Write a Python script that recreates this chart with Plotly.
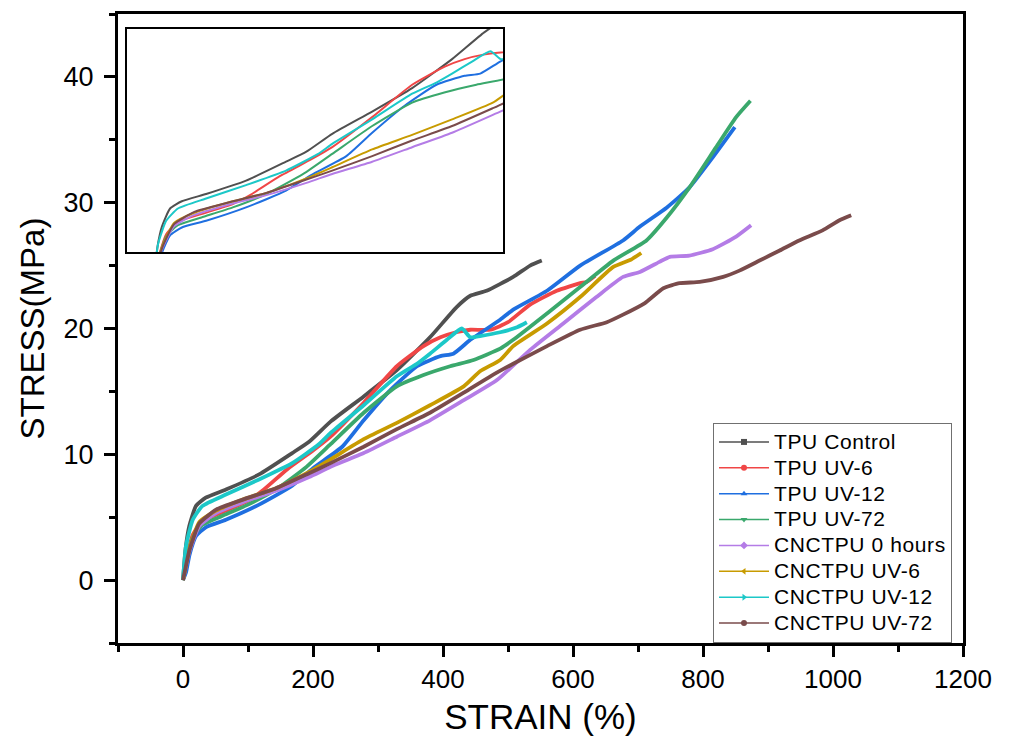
import plotly.graph_objects as go

# ---------------- data ----------------
series_names = ["TPU Control", "TPU UV-6", "TPU UV-12", "TPU UV-72",
                "CNCTPU 0 hours", "CNCTPU UV-6", "CNCTPU UV-12", "CNCTPU UV-72"]

tpu_control_strain = [0, 4, 9.7, 20, 35, 66, 117, 168, 194, 227, 278, 329, 380, 421, 442, 467, 508, 534, 552]
tpu_control_stress = [0, 2.5, 4.3, 5.9, 6.55, 7.2, 8.4, 10.1, 11.0, 12.6, 14.6, 16.7, 19.3, 21.7, 22.6, 23.0, 24.1, 25.0, 25.4]

tpu_uv6_strain = [0, 5, 15, 30, 60, 100, 122, 160, 200, 227, 278, 329, 370, 396, 420, 442, 473, 500, 534, 575, 611, 621, 634]
tpu_uv6_stress = [0, 1.5, 3.6, 4.7, 5.4, 6.3, 7.1, 8.8, 10.3, 11.4, 14.1, 17.0, 18.6, 19.3, 19.7, 19.9, 19.9, 20.5, 21.9, 23.0, 23.6, 23.7, 24.2]

tpu_uv12_strain = [0, 4.6, 10, 20, 35, 66, 117, 168, 200, 245, 278, 319, 360, 396, 416, 442, 488, 508, 560, 611, 677, 703, 744, 779, 815, 849]
tpu_uv12_stress = [0, 0.6, 2.0, 3.5, 4.2, 4.8, 6.0, 7.5, 8.9, 10.6, 12.7, 15.1, 17.0, 17.8, 18.0, 19.1, 20.7, 21.5, 23.0, 25.0, 27.0, 28.1, 29.6, 31.2, 33.6, 36.0]

tpu_uv72_strain = [0, 5, 15, 30, 60, 100, 143, 190, 227, 278, 329, 370, 411, 447, 488, 508, 560, 611, 662, 713, 744, 779, 820, 851, 873]
tpu_uv72_stress = [0, 1.4, 3.4, 4.4, 5.1, 6.0, 7.2, 9.0, 10.8, 13.3, 15.4, 16.3, 17.0, 17.5, 18.4, 19.1, 21.2, 23.3, 25.4, 27.0, 28.8, 31.2, 34.4, 36.8, 38.1]

cnc_0h_strain = [0, 10, 25, 50, 92, 143, 194, 227, 278, 329, 380, 432, 483, 534, 585, 636, 677, 703, 733, 749, 779, 815, 851, 874]
cnc_0h_stress = [0, 2.3, 4.3, 5.3, 6.2, 7.1, 8.2, 9.0, 10.1, 11.4, 12.7, 14.3, 15.9, 18.3, 20.4, 22.5, 24.1, 24.5, 25.3, 25.7, 25.8, 26.3, 27.3, 28.2]

cnc_uv6_strain = [0, 10, 25, 50, 92, 143, 194, 227, 278, 329, 380, 432, 457, 488, 508, 560, 611, 662, 690, 705]
cnc_uv6_stress = [0, 2.5, 4.6, 5.5, 6.4, 7.3, 8.6, 9.6, 11.2, 12.5, 13.9, 15.4, 16.6, 17.5, 18.6, 20.4, 22.5, 24.9, 25.5, 26.0]

cnc_uv12_strain = [0, 4.6, 15, 30, 66, 117, 168, 209, 227, 278, 329, 360, 380, 406, 429, 442, 457, 488, 514, 529]
cnc_uv12_stress = [0, 2.7, 4.8, 5.9, 6.8, 8.0, 9.3, 10.8, 11.7, 13.9, 16.2, 17.2, 18.0, 19.1, 20.0, 19.3, 19.4, 19.7, 20.1, 20.5]

cnc_uv72_strain = [0, 10, 25, 51, 92, 143, 194, 227, 278, 329, 380, 432, 473, 508, 560, 611, 652, 677, 710, 739, 764, 795, 831, 856, 887, 918, 948, 984, 1010, 1028]
cnc_uv72_stress = [0, 2.4, 4.5, 5.6, 6.4, 7.3, 8.5, 9.3, 10.6, 12.0, 13.3, 14.9, 16.2, 17.2, 18.6, 19.9, 20.5, 21.1, 22.0, 23.2, 23.6, 23.7, 24.1, 24.6, 25.4, 26.2, 27.0, 27.8, 28.6, 29.0]

x_tick_values = [0, 200, 400, 600, 800, 1000, 1200]
y_tick_values = [0, 10, 20, 30, 40]

# ---------------- styles ----------------
strains = [tpu_control_strain, tpu_uv6_strain, tpu_uv12_strain, tpu_uv72_strain,
           cnc_0h_strain, cnc_uv6_strain, cnc_uv12_strain, cnc_uv72_strain]
stresses = [tpu_control_stress, tpu_uv6_stress, tpu_uv12_stress, tpu_uv72_stress,
            cnc_0h_stress, cnc_uv6_stress, cnc_uv12_stress, cnc_uv72_stress]
colors = ["#505050", "#f04646", "#1f6fe0", "#3aa86c",
          "#b47ce6", "#c89b00", "#1cc8c8", "#7a4b4b"]
symbols = ["square", "circle", "triangle-up", "triangle-down",
           "diamond", "triangle-left", "triangle-right", "circle"]

FONT = "Liberation Sans, Arial, sans-serif"

fig = go.Figure()

# main curves
for name, xs, ys, c in zip(series_names, strains, stresses, colors):
    fig.add_trace(go.Scatter(x=xs, y=ys, mode="lines", name=name,
                             line=dict(color=c, width=3.8, shape="spline", smoothing=0.5),
                             legendgroup=name, showlegend=False,
                             xaxis="x", yaxis="y", hoverinfo="skip"))

# inset curves
for name, xs, ys, c in zip(series_names, strains, stresses, colors):
    fig.add_trace(go.Scatter(x=xs, y=ys, mode="lines", name=name,
                             line=dict(color=c, width=2, shape="spline", smoothing=0.5),
                             legendgroup=name, showlegend=False,
                             xaxis="x2", yaxis="y2", hoverinfo="skip"))

# legend entries
for name, c, s in zip(series_names, colors, symbols):
    label = '<span style="font-size:21px;letter-spacing:0.6px">' + name + '</span>'
    fig.add_trace(go.Scatter(x=[None], y=[None], mode="lines+markers", name=label,
                             line=dict(color=c, width=1.5),
                             marker=dict(symbol=s, size=6, color=c),
                             legendgroup=name, showlegend=True,
                             xaxis="x", yaxis="y"))

# page geometry (the html body adds an 8 px margin around the figure)
OFF = 8
PAGE_W, PAGE_H = 1017, 744
W, H = PAGE_W - 2 * OFF, PAGE_H - 2 * OFF
PX0, PX1, PY0, PY1 = 118, 963, 14, 643          # plot area in page pixels
L, T = PX0 - OFF, PY0 - OFF
R, B = (W + OFF) - PX1, (H + OFF) - PY1
pw, ph = PX1 - PX0, PY1 - PY0

fig.update_layout(
    width=W, height=H, autosize=False,
    margin=dict(l=L, r=R, t=T, b=B, autoexpand=False),
    paper_bgcolor="white", plot_bgcolor="white",
    font=dict(family=FONT, color="black"),
    xaxis=dict(range=[-100, 1200], tickvals=x_tick_values, automargin=False,
               showline=True, linewidth=3, linecolor="black", mirror=True,
               ticks="outside", ticklen=11, tickwidth=3, tickcolor="black",
               minor=dict(dtick=100, tick0=0, ticks="outside", ticklen=6, tickwidth=3, tickcolor="black"),
               showgrid=False, zeroline=False,
               tickfont=dict(size=26, family=FONT),
               title=dict(text="STRAIN (%)", font=dict(size=35, family=FONT), standoff=16)),
    yaxis=dict(range=[-5, 45], tickvals=y_tick_values, automargin=False,
               showline=True, linewidth=3, linecolor="black", mirror=True,
               ticks="outside", ticklen=11, tickwidth=3, tickcolor="black",
               minor=dict(dtick=5, tick0=0, ticks="outside", ticklen=6, tickwidth=3, tickcolor="black"),
               showgrid=False, zeroline=False, ticklabelstandoff=5,
               tickfont=dict(size=27, family=FONT),
               title=dict(text="STRESS(MPa)", font=dict(size=33, family=FONT), standoff=10)),
    xaxis2=dict(domain=[(127 - PX0) / pw, (503 - PX0) / pw], anchor="y2", automargin=False,
                range=[-35, 445], showline=True, linewidth=2, linecolor="black", mirror=True,
                showticklabels=False, ticks="", showgrid=False, zeroline=False),
    yaxis2=dict(domain=[(PY1 - 252) / ph, (PY1 - 29) / ph], anchor="x2", automargin=False,
                range=[2, 22], showline=True, linewidth=2, linecolor="black", mirror=True,
                showticklabels=False, ticks="", showgrid=False, zeroline=False),
    legend=dict(x=(713 - PX0) / pw, y=(PY1 - 423) / ph, xanchor="left", yanchor="top",
                bgcolor="white", bordercolor="#707070", borderwidth=1,
                font=dict(size=17.6, family=FONT, color="black"),
                itemwidth=50, tracegroupgap=0),
)

fig.write_html("out.html")
